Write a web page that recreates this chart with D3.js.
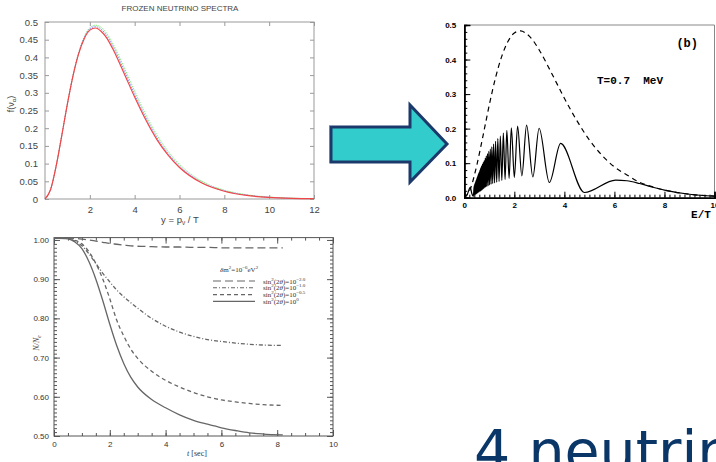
<!DOCTYPE html>
<html>
<head>
<meta charset="utf-8">
<script src="https://cdn.jsdelivr.net/npm/d3@7"></script>
<style>
  body { margin: 0; background: #fff; overflow: hidden; }
  svg { display: block; }
</style>
</head>
<body>
<div id="chart"></div>
<script>
// ---- panel A : frozen neutrino spectra ----
const specY     = [0, 0.25, 0.5, 0.75, 1, 1.25, 1.5, 1.75, 2, 2.25, 2.5, 2.75, 3, 3.5, 4, 4.5, 5, 5.5, 6, 7, 8, 9, 10, 11, 12];
const specRed   = [0, 0.027, 0.094, 0.18, 0.269, 0.348, 0.41, 0.453, 0.477, 0.483, 0.474, 0.455, 0.427, 0.359, 0.288, 0.223, 0.167, 0.123, 0.089, 0.045, 0.022, 0.010, 0.0045, 0.002, 0.001];
const specBlue  = [0, 0.027, 0.094, 0.18, 0.269, 0.349, 0.412, 0.456, 0.481, 0.487, 0.48, 0.462, 0.435, 0.368, 0.296, 0.23, 0.173, 0.128, 0.093, 0.047, 0.023, 0.011, 0.005, 0.002, 0.001];
const specGreen = [0, 0.027, 0.094, 0.18, 0.269, 0.349, 0.413, 0.458, 0.484, 0.491, 0.485, 0.468, 0.442, 0.376, 0.305, 0.238, 0.18, 0.134, 0.098, 0.05, 0.025, 0.012, 0.0055, 0.0025, 0.001];
const specXTicks = [2, 4, 6, 8, 10, 12];
const specYTicks = [0, 0.05, 0.1, 0.15, 0.2, 0.25, 0.3, 0.35, 0.4, 0.45, 0.5];

// ---- panel B : oscillating spectrum at T = 0.7 MeV ----
const eqE = [0, 0.25, 0.5, 0.75, 1, 1.25, 1.5, 1.75, 2, 2.25, 2.5, 2.75, 3, 3.5, 4, 4.5, 5, 5.5, 6, 6.5, 7, 7.5, 8, 9, 10];
const eqF = [0, 0.027, 0.094, 0.18, 0.269, 0.348, 0.41, 0.453, 0.477, 0.483, 0.474, 0.455, 0.427, 0.359, 0.288, 0.223, 0.167, 0.123, 0.089, 0.066, 0.045, 0.032, 0.022, 0.010, 0.0045];
const oscE = [0, 0.12, 0.24, 0.3, 0.36,
  0.40, 0.41, 0.42, 0.43, 0.44, 0.45, 0.46, 0.47, 0.48, 0.49, 0.50, 0.51, 0.52, 0.53, 0.54, 0.55, 0.56, 0.57, 0.58, 0.59,
  0.60, 0.612, 0.625, 0.637, 0.65, 0.662, 0.675, 0.687, 0.70, 0.715, 0.73, 0.747, 0.765, 0.782, 0.80, 0.82, 0.84, 0.86,
  0.88, 0.905, 0.93, 0.955, 0.98, 1.01, 1.04, 1.07, 1.10, 1.135, 1.17, 1.21, 1.25, 1.295, 1.34, 1.39, 1.44, 1.50,
  1.56, 1.63, 1.70, 1.79, 1.88, 2.0, 2.13, 2.3, 2.49, 2.74, 2.99, 3.4, 3.85, 4.8, 6.05, 6.5, 7.0, 7.5, 8.0, 9.0, 10.0];
const oscF = [0, 0.01, 0.03, 0.012, 0.004,
  0.035, 0.008, 0.04, 0.009, 0.044, 0.01, 0.048, 0.011, 0.052, 0.012, 0.056, 0.013, 0.06, 0.014, 0.064, 0.015, 0.068, 0.016, 0.072, 0.017,
  0.075, 0.018, 0.08, 0.019, 0.085, 0.02, 0.089, 0.021, 0.093, 0.023, 0.098, 0.025, 0.103, 0.027, 0.108, 0.029, 0.115, 0.031,
  0.121, 0.033, 0.128, 0.035, 0.134, 0.037, 0.141, 0.039, 0.147, 0.041, 0.155, 0.043, 0.163, 0.045, 0.171, 0.047, 0.178, 0.05,
  0.187, 0.053, 0.195, 0.056, 0.202, 0.059, 0.207, 0.063, 0.21, 0.06, 0.201, 0.044, 0.157, 0.015, 0.051, 0.049, 0.041, 0.031, 0.022, 0.01, 0.0045];
const bXTicks = [0, 2, 4, 6, 8, 10];
const bYTicks = [0, 0.1, 0.2, 0.3, 0.4, 0.5];

// ---- panel C : N/N_e versus time ----
const tSec    = [0, 0.5, 0.75, 1, 1.25, 1.5, 1.75, 2, 2.25, 2.5, 2.75, 3, 3.5, 4, 4.5, 5, 5.5, 6, 6.5, 7, 7.5, 8.2];
const nLong   = [1.005, 1.005, 1.004, 1.002, 1.0, 0.997, 0.994, 0.991, 0.989, 0.987, 0.985, 0.984, 0.983, 0.982, 0.982, 0.981, 0.981, 0.98, 0.98, 0.98, 0.98, 0.98];
const nDashDot= [1.005, 1.004, 0.997, 0.985, 0.965, 0.94, 0.915, 0.893, 0.872, 0.855, 0.84, 0.826, 0.8, 0.78, 0.765, 0.754, 0.746, 0.741, 0.737, 0.734, 0.732, 0.731];
const nDash   = [1.005, 1.004, 0.999, 0.99, 0.97, 0.94, 0.9, 0.85, 0.795, 0.755, 0.722, 0.698, 0.665, 0.642, 0.625, 0.611, 0.6, 0.592, 0.587, 0.583, 0.58, 0.578];
const nSolid  = [1.005, 1.003, 0.995, 0.978, 0.945, 0.9, 0.845, 0.785, 0.73, 0.685, 0.65, 0.625, 0.593, 0.572, 0.554, 0.54, 0.53, 0.521, 0.514, 0.508, 0.505, 0.503];
const legendExp = ["\u22122.0", "\u22121.0", "\u22120.5", "0"];
const cXTicks = [0, 2, 4, 6, 8, 10];
const cYTicks = [0.5, 0.6, 0.7, 0.8, 0.9, 1.0];

const svg = d3.select("#chart").append("svg")
  .attr("width", 716).attr("height", 462);

// ================= panel A =================
const xa = d3.scaleLinear().domain([0, 12]).range([45, 314]);
const ya = d3.scaleLinear().domain([0, 0.5]).range([199, 22]);
const ga = svg.append("g").style("font-family", "Liberation Sans, Arial, sans-serif");

ga.append("rect").attr("x", 45).attr("y", 22).attr("width", 269).attr("height", 177)
  .attr("fill", "none").attr("stroke", "#9a9a9a").attr("stroke-width", 1);

ga.append("g").attr("transform", "translate(45,0)")
  .call(d3.axisLeft(ya).tickValues(specYTicks).tickSize(-4).tickPadding(7).tickFormat(d => +d.toFixed(2)));
ga.append("g").attr("transform", "translate(0,199)")
  .call(d3.axisBottom(xa).tickValues(specXTicks).tickSize(-4).tickPadding(7));
ga.append("g").attr("transform", "translate(314,0)").call(d3.axisRight(ya).tickValues(specYTicks).tickSize(-4).tickFormat(""));
ga.append("g").attr("transform", "translate(0,22)").call(d3.axisTop(xa).tickValues(specXTicks).tickSize(-4).tickFormat(""));
ga.selectAll(".domain").remove();
ga.selectAll(".tick line").attr("stroke", "#9a9a9a");
ga.selectAll(".tick text").attr("fill", "#444").style("font-size", "9.5px");

const lineA = d3.line().x((d, i) => xa(specY[i])).y(d => ya(d)).curve(d3.curveMonotoneX);
ga.append("path").attr("d", lineA(specGreen)).attr("fill", "none").attr("stroke", "#7ef07e").attr("stroke-width", 1).attr("stroke-dasharray", "1.5,1");
ga.append("path").attr("d", lineA(specBlue)).attr("fill", "none").attr("stroke", "#8c8cf5").attr("stroke-width", 1).attr("stroke-dasharray", "1.5,1");
ga.append("path").attr("d", lineA(specRed)).attr("fill", "none").attr("stroke", "#f04646").attr("stroke-width", 1.2);

ga.append("text").attr("x", 180).attr("y", 11).attr("text-anchor", "middle")
  .attr("fill", "#444").style("font-size", "8px").text("FROZEN NEUTRINO SPECTRA");
const xla = ga.append("text").attr("x", 180).attr("y", 223).attr("text-anchor", "middle")
  .attr("fill", "#444").style("font-size", "9.5px");
xla.append("tspan").text("y = p");
xla.append("tspan").attr("dy", 2).style("font-size", "6.5px").text("\u03bd");
xla.append("tspan").attr("dy", -2).text(" / T");
const yla = ga.append("text").attr("transform", "translate(14,104) rotate(-90)").attr("text-anchor", "middle")
  .attr("fill", "#444").style("font-size", "9px");
yla.append("tspan").text("f(\u03bd");
yla.append("tspan").attr("dy", 2).style("font-size", "6px").text("\u03b1");
yla.append("tspan").attr("dy", -2).text(")");
// stray edge of a neighbouring frame
ga.append("line").attr("x1", 329.5).attr("x2", 329.5).attr("y1", 125).attr("y2", 163).attr("stroke", "#c8c8c8");

// ================= arrow =================
svg.append("polygon")
  .attr("points", "331,127 410,127 410,105 447,144 410,182 410,162 331,162")
  .attr("fill", "#33cccc").attr("stroke", "#1b3a6b").attr("stroke-width", 3).attr("stroke-linejoin", "miter");

// ================= panel B =================
const xb = d3.scaleLinear().domain([0, 10]).range([464.3, 714.5]);
const yb = d3.scaleLinear().domain([0, 0.5]).range([197.7, 25]);
const gb = svg.append("g").style("font-family", "Liberation Mono, Courier New, monospace").style("font-weight", "bold");

gb.append("line").attr("x1", 464.3).attr("x2", 714.5).attr("y1", 25).attr("y2", 25).attr("stroke", "#888").attr("stroke-width", 1);
gb.append("line").attr("x1", 714.5).attr("x2", 714.5).attr("y1", 25).attr("y2", 197.7).attr("stroke", "#888").attr("stroke-width", 1);

gb.append("g").attr("transform", "translate(464.3,0)")
  .call(d3.axisLeft(yb).tickValues(d3.range(0, 0.501, 0.02)).tickSize(-3).tickFormat(""));
gb.append("g").attr("transform", "translate(464.3,0)")
  .call(d3.axisLeft(yb).tickValues(bYTicks).tickSize(-6).tickPadding(8).tickFormat(d3.format(".1f")));
gb.append("g").attr("transform", "translate(0,197.7)")
  .call(d3.axisBottom(xb).tickValues(d3.range(0, 10.01, 0.2)).tickSize(-3).tickFormat(""));
gb.append("g").attr("transform", "translate(0,197.7)")
  .call(d3.axisBottom(xb).tickValues(bXTicks).tickSize(-6).tickPadding(5).tickFormat(d3.format("d")));
gb.selectAll(".domain").attr("stroke", "#000").attr("stroke-width", 1.6);
gb.selectAll(".tick line").attr("stroke", "#000").attr("stroke-width", 1);
gb.selectAll(".tick text").attr("fill", "#000").style("font-size", "8px");

const lineB = d3.line().curve(d3.curveMonotoneX);
gb.append("path").attr("d", lineB(eqE.map((e, i) => [xb(e), yb(eqF[i])])))
  .attr("fill", "none").attr("stroke", "#000").attr("stroke-width", 1.2).attr("stroke-dasharray", "5,4");
gb.append("path").attr("d", lineB(oscE.map((e, i) => [xb(e), yb(oscF[i])])))
  .attr("fill", "none").attr("stroke", "#000").attr("stroke-width", 1.2);

gb.append("text").attr("x", 698).attr("y", 47).attr("text-anchor", "end").style("font-size", "12px").text("(b)");
gb.append("text").attr("x", 597).attr("y", 84).style("font-size", "11px").attr("xml:space", "preserve").text("T=0.7  MeV");
gb.append("text").attr("x", 701).attr("y", 218).attr("text-anchor", "middle").style("font-size", "11px").text("E/T");

// ================= panel C =================
const xc = d3.scaleLinear().domain([0, 10]).range([54, 333]);
const yc = d3.scaleLinear().domain([0.5, 1.006]).range([436, 237.6]);
const gc = svg.append("g").style("font-family", "Liberation Serif, Times New Roman, serif");

gc.append("rect").attr("x", 54).attr("y", 237.6).attr("width", 279).attr("height", 198.4)
  .attr("fill", "none").attr("stroke", "#555").attr("stroke-width", 1);
const minorY = d3.range(0.5, 1.0051, 0.01);
const minorX = d3.range(0, 10.01, 0.5);
gc.append("g").attr("transform", "translate(54,0)").call(d3.axisLeft(yc).tickValues(minorY).tickSize(-3).tickFormat(""));
gc.append("g").attr("transform", "translate(333,0)").call(d3.axisRight(yc).tickValues(minorY).tickSize(-3).tickFormat(""));
gc.append("g").attr("transform", "translate(54,0)").call(d3.axisLeft(yc).tickValues(cYTicks).tickSize(-6).tickPadding(5).tickFormat(d3.format(".2f")));
gc.append("g").attr("transform", "translate(333,0)").call(d3.axisRight(yc).tickValues(cYTicks).tickSize(-6).tickFormat(""));
gc.append("g").attr("transform", "translate(0,436)").call(d3.axisBottom(xc).tickValues(minorX).tickSize(-3).tickFormat(""));
gc.append("g").attr("transform", "translate(0,237.6)").call(d3.axisTop(xc).tickValues(minorX).tickSize(-3).tickFormat(""));
gc.append("g").attr("transform", "translate(0,436)").call(d3.axisBottom(xc).tickValues(cXTicks).tickSize(-6).tickPadding(5).tickFormat(d3.format("d")));
gc.append("g").attr("transform", "translate(0,237.6)").call(d3.axisTop(xc).tickValues(cXTicks).tickSize(-6).tickFormat(""));
gc.selectAll(".domain").remove();
gc.selectAll(".tick line").attr("stroke", "#555");
gc.selectAll(".tick text").attr("fill", "#333").style("font-size", "8px");

const seriesC = [
  { vals: nLong, dash: "8,4" },
  { vals: nDashDot, dash: "4,2,1,2" },
  { vals: nDash, dash: "4,3" },
  { vals: nSolid, dash: null }
];
const lineC = d3.line().x((d, i) => xc(tSec[i])).y(d => yc(d)).curve(d3.curveMonotoneX);
seriesC.forEach(s => {
  gc.append("path").attr("d", lineC(s.vals)).attr("fill", "none")
    .attr("stroke", "#666").attr("stroke-width", 1.3).attr("stroke-dasharray", s.dash);
});

// legend
const lg = gc.append("g").attr("fill", "#333").style("font-size", "7px");
const hd = lg.append("text").attr("x", 220).attr("y", 272);
hd.append("tspan").style("font-style", "italic").text("\u03b4");
hd.append("tspan").text("m");
hd.append("tspan").attr("dy", -3).style("font-size", "5px").text("2");
hd.append("tspan").attr("dy", 3).text("=10");
hd.append("tspan").attr("dy", -3).style("font-size", "5px").text("\u22126");
hd.append("tspan").attr("dy", 3).text("eV");
hd.append("tspan").attr("dy", -3).style("font-size", "5px").text("2");
seriesC.forEach((s, i) => {
  const yy = 281 + i * 6.8;
  lg.append("line").attr("x1", 213).attr("x2", 255).attr("y1", yy).attr("y2", yy)
    .attr("stroke", "#666").attr("stroke-width", 1.1).attr("stroke-dasharray", s.dash);
  const t = lg.append("text").attr("x", 263).attr("y", yy + 2.5);
  t.append("tspan").text("sin");
  t.append("tspan").attr("dy", -3).style("font-size", "5px").text("2");
  t.append("tspan").attr("dy", 3).text("(2");
  t.append("tspan").style("font-style", "italic").text("\u03b8");
  t.append("tspan").text(")=10");
  t.append("tspan").attr("dy", -3).style("font-size", "5px").text(legendExp[i]);
});

gc.append("text").attr("x", 197).attr("y", 456).attr("text-anchor", "middle").attr("fill", "#333")
  .style("font-size", "8px").html("<tspan font-style='italic'>t</tspan> [sec]");
const ylc = gc.append("text").attr("transform", "translate(39,343) rotate(-90)").attr("text-anchor", "middle")
  .attr("fill", "#333").style("font-size", "8px").style("font-style", "italic");
ylc.append("tspan").text("N/N");
ylc.append("tspan").attr("dy", 2).style("font-size", "5.5px").text("e");

// ================= caption =================
svg.append("text").attr("x", 474).attr("y", 471)
  .style("font-family", "DejaVu Sans, Verdana, sans-serif").style("font-size", "57px")
  .attr("fill", "#0b3768").text("4 neutrinos");
</script>
</body>
</html>
